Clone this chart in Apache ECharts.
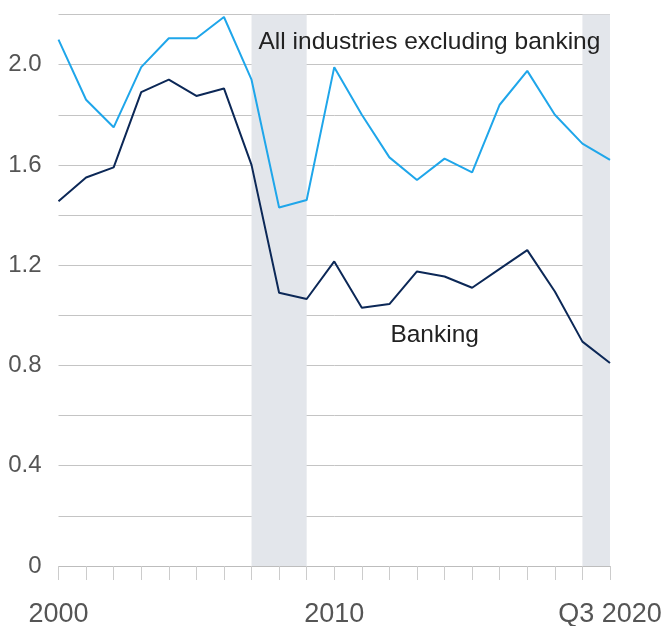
<!DOCTYPE html>
<html>
<head>
<meta charset="utf-8">
<script src="https://cdn.jsdelivr.net/npm/echarts@6/dist/echarts.min.js"></script>
<style>html,body{margin:0;padding:0;background:#fff}#c{width:662px;height:626px}</style>
</head>
<body>
<div id="c"></div>
<script>
var years = ['2000','2001','2002','2003','2004','2005','2006','2007','2008','2009','2010','2011','2012','2013','2014','2015','2016','2017','2018','2019','2020'];
var allExBanking = [2.10,1.86,1.75,1.99,2.105,2.105,2.19,1.94,1.43,1.46,1.99,1.80,1.63,1.54,1.625,1.57,1.84,1.975,1.80,1.685,1.62];
var banking = [1.455,1.55,1.59,1.89,1.94,1.875,1.905,1.60,1.09,1.065,1.215,1.03,1.045,1.175,1.155,1.11,1.185,1.26,1.095,0.895,0.81];
var shaded = [['2007','2009'],['2019','2020']];
var xLabelMap = {'2000':'2000','2010':'2010','2020':'Q3 2020'};
var yTickLabels = ['0','0.4','0.8','1.2','1.6','2.0'];

var font = '"Liberation Sans", Arial, Helvetica, sans-serif';
var chart = echarts.init(document.getElementById('c'));
chart.setOption({
  animation: false,
  grid: {left: 58.5, right: 52, top: 14.5, bottom: 60, containLabel: false, outerBoundsMode: 'none'},
  xAxis: {
    type: 'category',
    data: years,
    boundaryGap: false,
    axisLine: {show: true, lineStyle: {color: '#bdbdbd', width: 1}},
    axisTick: {show: true, interval: 0, length: 14, lineStyle: {color: '#cccccc', width: 1}},
    axisLabel: {
      interval: 0,
      margin: 35,
      fontSize: 27,
      color: '#555',
      fontFamily: font,
      formatter: function (v) { return xLabelMap[v] || ''; }
    },
    splitLine: {show: false}
  },
  yAxis: {
    type: 'value',
    min: 0, max: 2.2, interval: 0.2,
    axisLine: {show: false},
    axisTick: {show: false},
    axisLabel: {
      margin: 17,
      fontSize: 24,
      color: '#555',
      fontFamily: font,
      formatter: function (v) {
        var idx = Math.round(v * 10);
        if (idx % 4 !== 0) return '';
        return yTickLabels[idx / 4] || '';
      }
    },
    splitLine: {show: true, lineStyle: {color: '#c4c4c4', width: 1}}
  },
  series: [
    {
      name: 'All industries excluding banking',
      type: 'line',
      data: allExBanking,
      symbol: 'none',
      lineStyle: {color: '#1fa6ea', width: 2},
      z: 3,
      markArea: {
        silent: true,
        itemStyle: {color: '#e3e6eb'},
        data: shaded.map(function (s) { return [{xAxis: s[0]}, {xAxis: s[1]}]; })
      },
      markPoint: {
        symbol: 'circle', symbolSize: 0,
        label: {show: true, position: 'right', distance: 0, offset: [7, 0], fontSize: 24.5, color: '#222', fontFamily: font, formatter: '{b}'},
        data: [{name: 'All industries excluding banking', coord: ['2007', 2.09]}]
      }
    },
    {
      name: 'Banking',
      type: 'line',
      data: banking,
      symbol: 'none',
      lineStyle: {color: '#0c2857', width: 2},
      z: 4,
      markPoint: {
        symbol: 'circle', symbolSize: 0,
        label: {show: true, position: 'right', distance: 0, offset: [1, 0], fontSize: 24.5, color: '#222', fontFamily: font, formatter: '{b}'},
        data: [{name: 'Banking', coord: ['2012', 0.92]}]
      }
    }
  ]
});
</script>
</body>
</html>
